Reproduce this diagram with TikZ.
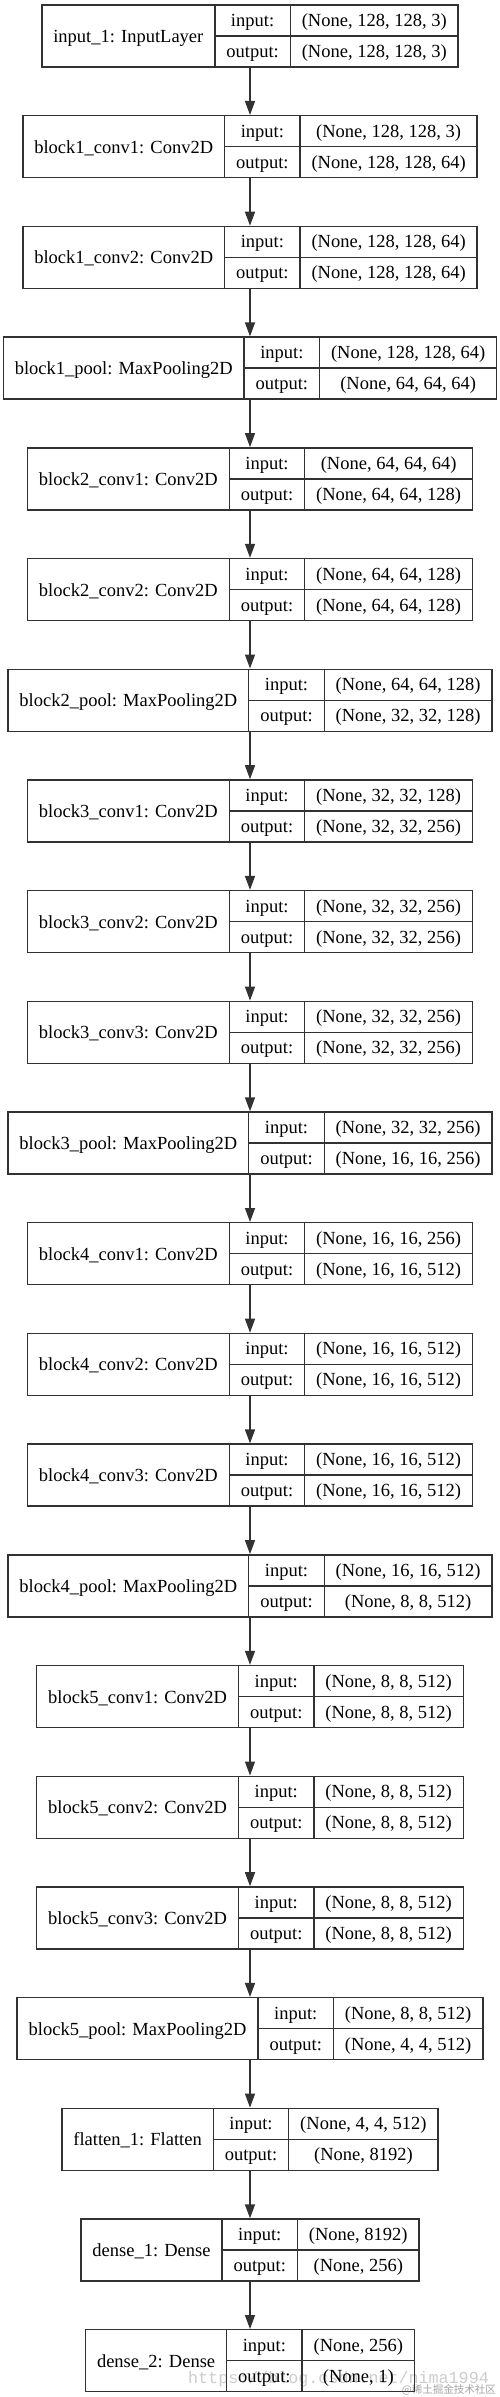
\documentclass[tikz,border=0pt]{standalone}
\usepackage{fontspec}
\setmainfont{Liberation Serif}
\newfontfamily\wmfont{Liberation Mono}
\newfontfamily\cjkfont{Noto Sans CJK SC}
\usetikzlibrary{arrows.meta}
\definecolor{linec}{RGB}{50,50,50}
\definecolor{wmc}{RGB}{205,205,205}
\definecolor{wmc2}{RGB}{165,165,165}
\newdimen\lwC \newdimen\lwD
\def\pad{11.5}
\newcommand\lfont{\fontsize{18.5}{22}\selectfont}
\makeatletter
\let\mystrip\strip@pt
\makeatother
\tikzset{
  rec/.style={draw=linec, line width=1.4pt, minimum height=62pt, inner sep=0pt},
  rule/.style={draw=linec, line width=1.4pt},
  txt/.style={font=\lfont, inner sep=0pt, anchor=base},
  flow/.style={draw=linec, line width=1.4pt, -{Triangle[length=14pt,width=10pt]}},
  wmark/.style={text=wmc, inner sep=0pt, font=\wmfont\fontsize{16.7}{18}\selectfont},
  wmark2/.style={text=wmc2, inner sep=0pt, font=\cjkfont\fontsize{10.5}{12}\selectfont},
}
% store texts and measured widths of one layer (measured outside the picture)
\newcommand\defl[4]{%
  \setbox0=\hbox{\lfont #2}%
  \expandafter\xdef\csname wA#1\endcsname{\mystrip\wd0}%
  \setbox0=\hbox{\lfont #3}\lwC=\wd0
  \setbox0=\hbox{\lfont #4}\lwD=\wd0
  \ifdim\lwD>\lwC \lwC=\lwD\fi
  \expandafter\xdef\csname wC#1\endcsname{\mystrip\lwC}%
  \expandafter\gdef\csname tA#1\endcsname{#2}%
  \expandafter\gdef\csname tI#1\endcsname{#3}%
  \expandafter\gdef\csname tO#1\endcsname{#4}%
}
\newcommand\layer[1]{%
  \pgfmathsetmacro\fa{\csname wA#1\endcsname+2*\pad}%
  \pgfmathsetmacro\fb{\wB+2*\pad}%
  \pgfmathsetmacro\fc{\csname wC#1\endcsname+2*\pad}%
  \pgfmathsetmacro\W{\fa+\fb+\fc}%
  \pgfmathsetmacro\xl{250-\W/2}%
  \pgfmathsetmacro\xa{\xl+\fa}%
  \pgfmathsetmacro\xb{\xa+\fb}%
  \pgfmathsetmacro\xr{\xb+\fc}%
  \pgfmathsetmacro\yt{5+110.7*#1}%
  \pgfmathsetmacro\ym{\yt+31}%
  \pgfmathsetmacro\yb{\yt+62}%
  \node[rec, minimum width=\W pt] (L#1) at (250,\ym) {};
  \draw[rule] (\xa,\yt) -- (\xa,\yb) (\xb,\yt) -- (\xb,\yb) (\xa,\ym) -- (\xr,\ym);
  \node[txt] (L#1n) at ({(\xl+\xa)/2},{\yt+37.5}) {\csname tA#1\endcsname};
  \node[txt] (L#1i) at ({(\xa+\xb)/2},{\yt+21.5}) {input:};
  \node[txt] (L#1o) at ({(\xa+\xb)/2},{\yt+52.5}) {output:};
  \node[txt] (L#1si) at ({(\xb+\xr)/2},{\yt+21.5}) {\csname tI#1\endcsname};
  \node[txt] (L#1so) at ({(\xb+\xr)/2},{\yt+52.5}) {\csname tO#1\endcsname};
}
\begin{document}
\setbox0=\hbox{\lfont output:}\xdef\wB{\mystrip\wd0}%
\defl{0}{input\_1: InputLayer}{(None, 128, 128, 3)}{(None, 128, 128, 3)}%
\defl{1}{block1\_conv1: Conv2D}{(None, 128, 128, 3)}{(None, 128, 128, 64)}%
\defl{2}{block1\_conv2: Conv2D}{(None, 128, 128, 64)}{(None, 128, 128, 64)}%
\defl{3}{block1\_pool: MaxPooling2D}{(None, 128, 128, 64)}{(None, 64, 64, 64)}%
\defl{4}{block2\_conv1: Conv2D}{(None, 64, 64, 64)}{(None, 64, 64, 128)}%
\defl{5}{block2\_conv2: Conv2D}{(None, 64, 64, 128)}{(None, 64, 64, 128)}%
\defl{6}{block2\_pool: MaxPooling2D}{(None, 64, 64, 128)}{(None, 32, 32, 128)}%
\defl{7}{block3\_conv1: Conv2D}{(None, 32, 32, 128)}{(None, 32, 32, 256)}%
\defl{8}{block3\_conv2: Conv2D}{(None, 32, 32, 256)}{(None, 32, 32, 256)}%
\defl{9}{block3\_conv3: Conv2D}{(None, 32, 32, 256)}{(None, 32, 32, 256)}%
\defl{10}{block3\_pool: MaxPooling2D}{(None, 32, 32, 256)}{(None, 16, 16, 256)}%
\defl{11}{block4\_conv1: Conv2D}{(None, 16, 16, 256)}{(None, 16, 16, 512)}%
\defl{12}{block4\_conv2: Conv2D}{(None, 16, 16, 512)}{(None, 16, 16, 512)}%
\defl{13}{block4\_conv3: Conv2D}{(None, 16, 16, 512)}{(None, 16, 16, 512)}%
\defl{14}{block4\_pool: MaxPooling2D}{(None, 16, 16, 512)}{(None, 8, 8, 512)}%
\defl{15}{block5\_conv1: Conv2D}{(None, 8, 8, 512)}{(None, 8, 8, 512)}%
\defl{16}{block5\_conv2: Conv2D}{(None, 8, 8, 512)}{(None, 8, 8, 512)}%
\defl{17}{block5\_conv3: Conv2D}{(None, 8, 8, 512)}{(None, 8, 8, 512)}%
\defl{18}{block5\_pool: MaxPooling2D}{(None, 8, 8, 512)}{(None, 4, 4, 512)}%
\defl{19}{flatten\_1: Flatten}{(None, 4, 4, 512)}{(None, 8192)}%
\defl{20}{dense\_1: Dense}{(None, 8192)}{(None, 256)}%
\defl{21}{dense\_2: Dense}{(None, 256)}{(None, 1)}%
\begin{tikzpicture}[x=1pt,y=-1pt]
\useasboundingbox (0,0) rectangle (500,2397);
\fill[white] (0,0) rectangle (500,2397);
\node[wmark, anchor=base west] (wm1) at (188,2383) {https://blog.csdn.net/nima1994};
\node[wmark2, anchor=base east] (wm2) at (496,2393) {@稀土掘金技术社区};
\foreach \k in {0,...,21} {\layer{\k}}
\foreach \i [evaluate=\i as \j using int(\i+1)] in {0,...,20}
  \draw[flow] (L\i.south) -- (L\j.north);
\end{tikzpicture}
\end{document}
